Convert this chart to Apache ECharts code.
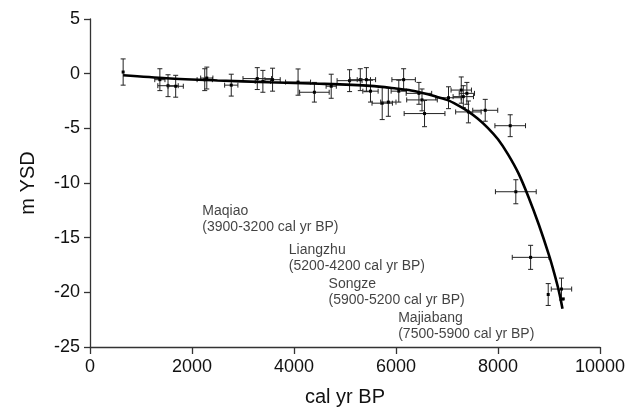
<!DOCTYPE html>
<html>
<head>
<meta charset="utf-8">
<script src="https://cdn.jsdelivr.net/npm/echarts@6/dist/echarts.min.js"></script>
<style>
html,body{margin:0;padding:0;background:#fff;}
#chart{width:628px;height:412px;}
</style>
</head>
<body>
<div id="chart"></div>
<script>
// Data points (cal yr BP, m YSD) with half-width error bars
var ptX    = [650, 1370, 1530, 1680, 2250, 2290, 2770, 3280, 3390, 3580, 4080, 4400, 4730, 5090, 5300, 5420, 5500, 5730, 5850, 6055, 6150, 6450, 6510, 6560, 7030, 7280, 7320, 7390, 7420, 7750, 8240, 8350, 8640, 8985, 9245, 9280];
var ptY    = [0.15, -0.55, -1.1, -1.15, -0.55, -0.4, -1.05, -0.45, -0.7, -0.55, -0.77, -1.7, -1.15, -0.64, -0.55, -0.55, -1.6, -2.7, -2.6, -1.6, -0.55, -1.8, -2.4, -3.65, -2.2, -1.5, -2.1, -1.8, -3.5, -3.35, -4.76, -10.8, -16.8, -20.2, -19.7, -20.6];
var ptXErr = [0, 100, 200, 150, 150, 120, 130, 280, 150, 150, 245, 290, 100, 245, 200, 180, 150, 200, 150, 150, 230, 250, 300, 400, 250, 200, 200, 150, 250, 245, 300, 400, 360, 0, 200, 0];
var ptYErr = [1.2, 1.0, 1.0, 1.0, 1.0, 1.0, 1.0, 1.0, 1.0, 1.05, 1.2, 0.9, 1.1, 1.0, 1.0, 1.1, 1.0, 1.5, 1.3, 1.0, 1.0, 1.0, 1.0, 1.2, 1.0, 1.2, 1.0, 1.0, 1.0, 1.0, 1.0, 1.1, 1.1, 1.0, 1.0, 0];

// Fitted curve
var curveX = [650, 1500, 2500, 3500, 4500, 5500, 6000, 6250, 6500, 6750, 7000, 7200, 7400, 7600, 7800, 8000, 8200, 8400, 8600, 8800, 9000, 9100, 9200, 9265];
var curveY = [-0.15, -0.42, -0.62, -0.78, -0.92, -1.12, -1.35, -1.5, -1.75, -2.05, -2.4, -2.85, -3.4, -4.1, -4.95, -6.0, -7.4, -9.1, -11.3, -13.8, -16.6, -18.2, -20.0, -21.5];

// Cultural period annotations
var annName  = ['Maqiao', 'Liangzhu', 'Songze', 'Majiabang'];
var annRange = ['(3900-3200 cal yr BP)', '(5200-4200 cal yr BP)', '(5900-5200 cal yr BP)', '(7500-5900 cal yr BP)'];
var annX     = [2203, 3899, 4678, 6043];
var annY     = [-11.88, -15.45, -18.56, -21.6];

var xTicks = [0, 2000, 4000, 6000, 8000, 10000];
var yTicks = [-25, -20, -15, -10, -5, 0, 5];

var FONT = '"Liberation Sans", Arial, Helvetica, sans-serif';

var errData = ptX.map(function (x, i) { return [x, ptY[i], ptXErr[i], ptYErr[i]]; });
var curveData = curveX.map(function (x, i) { return [x, curveY[i]]; });
var annData = annX.map(function (x, i) { return { value: [x, annY[i]], name: annName[i], range: annRange[i] }; });

function renderErr(params, api) {
  var x = api.value(0), y = api.value(1), xe = api.value(2), ye = api.value(3);
  var c = api.coord([x, y]);
  var children = [];
  var style = { stroke: '#222', lineWidth: 1 };
  var cap = 2.5;
  if (ye > 0) {
    var t = api.coord([x, y + ye]), b = api.coord([x, y - ye]);
    children.push({ type: 'line', shape: { x1: c[0], y1: t[1], x2: c[0], y2: b[1] }, style: style });
    children.push({ type: 'line', shape: { x1: c[0] - cap, y1: t[1], x2: c[0] + cap, y2: t[1] }, style: style });
    children.push({ type: 'line', shape: { x1: c[0] - cap, y1: b[1], x2: c[0] + cap, y2: b[1] }, style: style });
  }
  if (xe > 0) {
    var l = api.coord([x - xe, y]), r = api.coord([x + xe, y]);
    children.push({ type: 'line', shape: { x1: l[0], y1: c[1], x2: r[0], y2: c[1] }, style: style });
    children.push({ type: 'line', shape: { x1: l[0], y1: c[1] - cap, x2: l[0], y2: c[1] + cap }, style: style });
    children.push({ type: 'line', shape: { x1: r[0], y1: c[1] - cap, x2: r[0], y2: c[1] + cap }, style: style });
  }
  children.push({ type: 'rect', shape: { x: c[0] - 1.5, y: c[1] - 1.5, width: 3, height: 3 }, style: { fill: '#000' } });
  return { type: 'group', children: children };
}

var chart = echarts.init(document.getElementById('chart'), null, { renderer: 'canvas' });
chart.setOption({
  animation: false,
  backgroundColor: '#fff',
  grid: { left: 90, right: 25, top: 19, bottom: 65, containLabel: false },
  xAxis: {
    type: 'value', min: xTicks[0], max: xTicks[xTicks.length - 1], interval: 2000,
    name: 'cal yr BP', nameLocation: 'middle', nameGap: 40,
    nameTextStyle: { fontFamily: FONT, fontSize: 20, color: '#111' },
    axisLine: { onZero: false, lineStyle: { color: '#333', width: 1.3 } },
    axisTick: { length: 7, lineStyle: { color: '#333', width: 1.3 } },
    axisLabel: { fontFamily: FONT, fontSize: 18, color: '#111', margin: 11,
      formatter: function (v) { return String(v); } },
    splitLine: { show: false }
  },
  yAxis: {
    type: 'value', min: yTicks[0], max: yTicks[yTicks.length - 1], interval: 5,
    name: 'm YSD', nameLocation: 'middle', nameGap: 52,
    nameTextStyle: { fontFamily: FONT, fontSize: 20, color: '#111' },
    axisLine: { show: true, onZero: false, lineStyle: { color: '#333', width: 1.3 } },
    axisTick: { show: true, length: 6, lineStyle: { color: '#333', width: 1.3 } },
    axisLabel: { fontFamily: FONT, fontSize: 18, color: '#111', margin: 10,
      formatter: function (v) { return String(v); } },
    splitLine: { show: false }
  },
  series: [
    {
      type: 'custom', renderItem: renderErr, data: errData, z: 2,
      encode: { x: 0, y: 1 }, clip: false
    },
    {
      type: 'line', data: curveData, smooth: 0.3, symbol: 'none', z: 3,
      lineStyle: { color: '#000', width: 2.6 }
    },
    {
      type: 'scatter', data: annData, symbolSize: 0, z: 4,
      label: {
        show: true, position: [0, 0], align: 'left', verticalAlign: 'top',
        fontFamily: FONT, fontSize: 14, color: '#111', lineHeight: 16,
        formatter: function (p) { return p.data.name + '\n' + p.data.range; }
      }
    }
  ]
});
</script>
</body>
</html>
